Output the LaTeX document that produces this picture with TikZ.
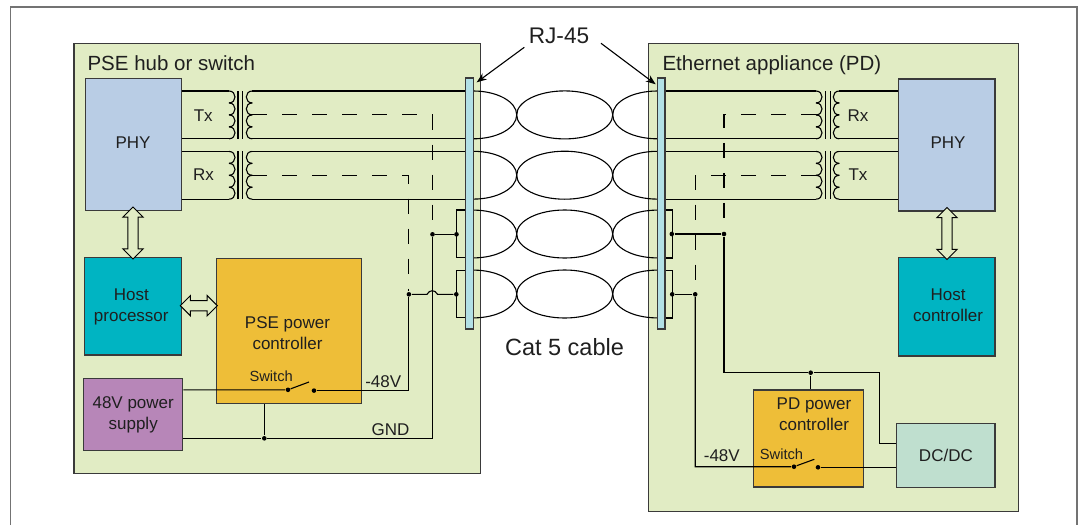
\documentclass[tikz,border=0pt]{standalone}
\usepackage{fontspec}
\setmainfont{Liberation Sans}
\usetikzlibrary{shapes.arrows,arrows.meta}
\definecolor{boardgreen}{HTML}{E1ECC4}
\definecolor{phyblue}{HTML}{B9CDE5}
\definecolor{hostteal}{HTML}{00B4C2}
\definecolor{ctrlgold}{HTML}{EEBE38}
\definecolor{psupurple}{HTML}{B786B8}
\definecolor{dcgreen}{HTML}{BFDFCF}
\definecolor{jackblue}{HTML}{B2E0E6}
\definecolor{edgegray}{HTML}{3A3A3A}
\newcommand{\coil}[3]{\foreach \i in {0,1,2,3}
  \draw ({#1},{#3+11.95*\i}) .. controls ({#2},{#3+11.95*\i}) and ({#2},{#3+11.95*(\i+1)}) .. ({#1},{#3+11.95*(\i+1)});}
\begin{document}
\begin{tikzpicture}[>={Stealth[length=10pt,width=7.5pt]}, x=1pt, y=-1pt, line width=1.1pt, text=black!88,
  font=\fontsize{17}{21}\selectfont,
  board/.style={draw=edgegray, fill=boardgreen, line width=1.3pt, anchor=north west, inner sep=0pt},
  unitbox/.style={draw=edgegray, line width=1.2pt, inner sep=0pt, align=center},
  jack/.style={draw=edgegray, fill=jackblue, line width=1.1pt, inner sep=0pt, minimum width=7.6pt, minimum height=251pt},
  jdot/.style={circle, fill=black, inner sep=0pt, minimum size=4.6pt},
  tag/.style={inner sep=0pt, align=center},
  basetag/.style={inner sep=0pt, anchor=base west},
  busarrow/.style={double arrow, draw=black, fill=boardgreen, line width=1pt, inner sep=4.6pt, outer sep=0pt,
    double arrow head extend=5pt, minimum width=19.5pt},
  taps/.style={dash pattern=on 15pt off 15pt},
  frameline/.style={draw=black!55, line width=1.2pt}]
\useasboundingbox (0,0) rectangle (1086,525);
\draw[frameline] (10.5,525) -- (10.5,7) -- (1077,7) -- (1077,525);
\node[board, minimum width=406.5pt, minimum height=430pt] (pseboard) at (73.3,43) {};
\node[board, minimum width=370pt, minimum height=468pt] (pdboard) at (647.7,43) {};
\node[basetag, font=\fontsize{20.5}{24}\selectfont] (psetitle) at (87,70) {PSE hub or switch};
\node[basetag, font=\fontsize{20.5}{24}\selectfont] (pdtitle) at (662,70) {Ethernet appliance (PD)};
\foreach \y in {114.9,175.2,234,294}{
  \draw (473.3,\y-23.9) arc[start angle=-90, end angle=90, x radius=43.4, y radius=23.9];
  \draw (564.7,\y) ellipse[x radius=48, y radius=24];
  \draw (657.3,\y-23.9) arc[start angle=270, end angle=90, x radius=44.6, y radius=23.9];
}
\node[unitbox, fill=phyblue, minimum width=96.4pt, minimum height=131.4pt] (phyl) at (133.5,144.5) {};
\node[tag] (phyltag) at (133,142.5) {PHY};
\node[unitbox, fill=phyblue, minimum width=96.7pt, minimum height=132pt] (phyr) at (946.7,145) {};
\node[tag] (phyrtag) at (948,142.5) {PHY};
\node[unitbox, fill=hostteal, minimum width=97pt, minimum height=97.7pt] (hostp) at (133.2,306.2) {};
\node[tag] (hostptag) at (131.3,306.5) {Host\\processor};
\node[unitbox, fill=hostteal, minimum width=96.3pt, minimum height=98.7pt] (hostc) at (946.8,306.7) {};
\node[tag] (hostctag) at (948,305.5) {Host\\controller};
\node[unitbox, fill=ctrlgold, minimum width=145pt, minimum height=145pt] (pse) at (289.2,330.8) {};
\node[tag] (pselabel) at (287.5,333) {PSE power\\controller};
\node[unitbox, fill=psupurple, minimum width=99pt, minimum height=72.4pt] (psu) at (133.2,414.5) {48V power\\supply};
\node[unitbox, fill=ctrlgold, minimum width=110pt, minimum height=97pt] (pd) at (808.3,438.5) {};
\node[tag] (pdlabel) at (814,414.5) {PD power\\controller};
\node[unitbox, fill=dcgreen, minimum width=98.3pt, minimum height=64.4pt] (dcdc) at (945.9,455.5) {DC/DC};
\node[busarrow, rotate=90, minimum height=52pt] (busl) at (133,233) {};
\node[busarrow, minimum height=37pt] (busp) at (198.8,305.7) {};
\node[busarrow, rotate=90, minimum height=52pt] (busr) at (947,233.5) {};
\node[tag] (txl) at (203.3,116) {Tx};
\node[tag] (rxl) at (203.5,175) {Rx};
\node[tag] (rxr) at (858,116) {Rx};
\node[tag] (txr) at (858,175) {Tx};
\coordinate (txa) at (229,91); \coordinate (txb) at (229,138.8);
\coordinate (txc) at (252.3,91); \coordinate (txd) at (252.3,138.8); \coordinate (txe) at (252.3,114.9);
\coordinate (rxa) at (229,151.4); \coordinate (rxb) at (229,199.2);
\coordinate (rxc) at (252.3,151.4); \coordinate (rxd) at (252.3,199.2); \coordinate (rxe) at (252.3,175.3);
\coordinate (ra) at (839.3,91); \coordinate (rb) at (839.3,138.8);
\coordinate (rc) at (816,91); \coordinate (rd) at (816,138.8); \coordinate (re) at (816,114.9);
\coordinate (ta) at (839.3,151.4); \coordinate (tb) at (839.3,199.2);
\coordinate (tc) at (816,151.4); \coordinate (td) at (816,199.2); \coordinate (te) at (816,175.3);
\coil{229}{237}{91} \coil{229}{237}{151.4}
\coil{252.3}{244.3}{91} \coil{252.3}{244.3}{151.4}
\coil{816}{824}{91} \coil{816}{824}{151.4}
\coil{839.3}{831.3}{91} \coil{839.3}{831.3}{151.4}
\foreach \x in {238,242.7,825.7,830.7}{
  \draw (\x,91) -- (\x,138.8);
  \draw (\x,151.4) -- (\x,199.2);
}
\draw (phyl.east |- txa) -- (txa);
\draw (phyl.east |- txb) -- (txb);
\draw (phyl.east |- rxa) -- (rxa);
\draw (phyl.east |- rxb) -- (rxb);
\draw (phyr.west |- ra) -- (ra);
\draw (phyr.west |- rb) -- (rb);
\draw (phyr.west |- ta) -- (ta);
\draw (phyr.west |- tb) -- (tb);
\node[jack] (jackl) at (469.5,203.5) {};
\node[jack] (jackr) at (661.2,203.5) {};
\draw (txc) -- (jackl.west |- txc);
\draw (txd) -- (jackl.west |- txd);
\draw (rxc) -- (jackl.west |- rxc);
\draw (rxd) -- (jackl.west |- rxd);
\draw (rc) -- (jackr.east |- rc);
\draw (rd) -- (jackr.east |- rd);
\draw (tc) -- (jackr.east |- tc);
\draw (td) -- (jackr.east |- td);
\coordinate (pa) at (456.3,210); \coordinate (pb) at (456.3,257.7);
\coordinate (pc) at (456.3,270.3); \coordinate (pd2) at (456.3,317.7);
\coordinate (qa) at (672.3,210); \coordinate (qb) at (672.3,258);
\coordinate (qc) at (672.3,270.3); \coordinate (qd) at (672.3,318);
\draw (jackl.west |- pa) -- (pa) -- (pb) -- (jackl.west |- pb);
\draw (jackl.west |- pc) -- (pc) -- (pd2) -- (jackl.west |- pd2);
\draw (jackr.east |- qa) -- (qa) -- (qb) -- (jackr.east |- qb);
\draw (jackr.east |- qc) -- (qc) -- (qd) -- (jackr.east |- qd);
\node[jdot] (jp1) at (456.5,234.3) {};
\node[jdot] (jp2) at (456.3,294.3) {};
\node[jdot] (jgnd) at (432.5,234.3) {};
\node[jdot] (jneg) at (408.9,294.3) {};
\node[jdot] (jtee) at (264.3,438.3) {};
\node[jdot] (swa) at (288,389.8) {};
\node[jdot] (swb) at (314,390.6) {};
\coordinate (swtip) at (309,382);
\coordinate (bumpa) at (427,294.3); \coordinate (bumpb) at (437.5,294.3);
\draw[taps] (txe) -| (jgnd);
\draw[taps] (rxe) -| (jneg);
\draw (jp1) -- (jgnd);
\draw (jgnd) |- (jtee) -- (psu.east |- jtee);
\draw (jtee) -- (pse.south -| jtee);
\draw (jneg) -- (bumpa) .. controls +(2.5,-4.8) and +(-2.5,-4.8) .. (bumpb) -- (jp2);
\draw (psu.east |- swa) -- (swa) -- (swtip);
\draw (swb) -| (jneg);
\node[jdot] (jq1) at (671.8,234) {};
\node[jdot] (jq2) at (672.2,294.3) {};
\node[jdot] (jrtap) at (724,234) {};
\node[jdot] (jrneg) at (695.2,294.3) {};
\node[jdot] (jpd) at (810.7,372.7) {};
\node[jdot] (swc) at (794,466.7) {};
\node[jdot] (swd) at (818,467.3) {};
\coordinate (swtop) at (814.3,459.3);
\coordinate (dca) at (879.3,443.7);
\draw[taps] (re) -| (jrtap);
\draw[taps] (te) -| (jrneg);
\draw (jq1) -- (jrtap);
\draw (jq2) -- (jrneg);
\draw (jrtap) |- (jpd) -| (dca) -- (dcdc.west |- dca);
\draw (jpd) -- (pd.north -| jpd);
\draw (jrneg) |- (swc) -- (swtop);
\draw (swd) -- (dcdc.west |- swd);
\node[basetag, font=\fontsize{14.7}{17}\selectfont] (swl) at (249,381.7) {Switch};
\node[basetag, font=\fontsize{14.7}{17}\selectfont] (swr) at (759.3,459.3) {Switch};
\node[basetag] (negl) at (364.7,387.7) {-48V};
\node[basetag] (negr) at (703.3,461.7) {-48V};
\node[basetag] (gndl) at (371,435.7) {GND};
\node[inner sep=0pt, anchor=base, font=\fontsize{22.6}{26}\selectfont] (rj) at (559,43.3) {RJ-45};
\node[inner sep=0pt, anchor=base, font=\fontsize{23.5}{26}\selectfont] (cat) at (564.5,355) {Cat 5 cable};
\coordinate (rjla) at (524.3,47.3); \coordinate (rjlb) at (476.7,82.3);
\coordinate (rjra) at (601,43.3); \coordinate (rjrb) at (655.7,84.3);
\draw[->] (rjla) -- (rjlb);
\draw[->] (rjra) -- (rjrb);
\end{tikzpicture}
\end{document}
